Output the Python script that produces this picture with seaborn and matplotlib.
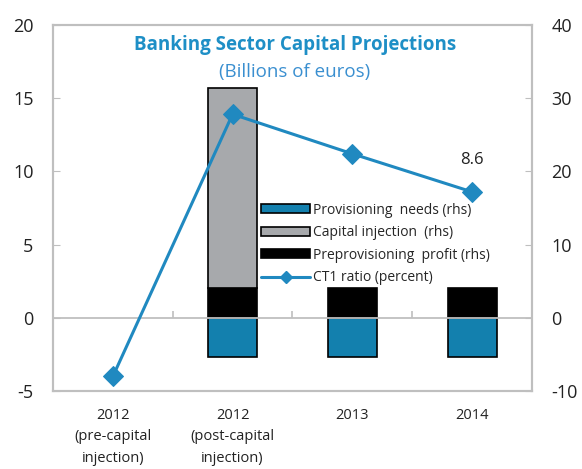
import numpy as np
import matplotlib
matplotlib.use("Agg")
import matplotlib.pyplot as plt
from matplotlib.patches import Patch
from matplotlib.lines import Line2D
import seaborn as sns

# Data
categories = ["2012\n(pre-capital\ninjection)", "2012\n(post-capital\ninjection)", "2013", "2014"]
ct1_ratio = [-4.0, 13.9, 11.2, 8.6]  # lhs, percent

bar_categories = categories[1:]
provisioning_needs = [-5.4, -5.4, -5.4]  # rhs
preprovisioning_profit = [4.1, 4.1, 4.1]  # rhs
injection_categories = [categories[1]]
capital_injection = [27.3]  # rhs, stacked on profit

BLUE_LINE = "#2089c0"
BLUE_BAR = "#1380ae"
GREY_BAR = "#a7a9ac"
SPINE = "#bfbfbf"

sns.set_style("white")
plt.rcParams["font.family"] = ["Open Sans", "DejaVu Sans"]

fig, ax = plt.subplots(figsize=(5.82, 4.69), dpi=100)
fig.subplots_adjust(left=0.091, right=0.914, top=0.947, bottom=0.166)
ax2 = ax.twinx()

# Bars on the right-hand axis
bar_kw = dict(order=categories, width=0.41, edgecolor="black", linewidth=1.2,
              saturation=1, ax=ax2)
sns.barplot(x=bar_categories, y=provisioning_needs, color=BLUE_BAR, **bar_kw)
sns.barplot(x=bar_categories, y=preprovisioning_profit, color="black", **bar_kw)
sns.barplot(x=injection_categories, y=capital_injection, color=GREY_BAR,
            bottom=preprovisioning_profit[0], **bar_kw)

# CT1 ratio line on the left-hand axis, drawn above the bars
positions = np.arange(len(categories))
sns.lineplot(x=positions, y=ct1_ratio, color=BLUE_LINE, linewidth=2.2, marker="D",
             markersize=10, markeredgecolor=BLUE_LINE, ax=ax)
ax.set_zorder(ax2.zorder + 1)
ax.patch.set_visible(False)

ax.annotate(f"{ct1_ratio[-1]}", (positions[-1], ct1_ratio[-1]), xytext=(0, 17),
            textcoords="offset points", ha="center", va="bottom", fontsize=12, color="#222222")

ax.set_xlim(-0.5, len(categories) - 0.5)
ax.set_ylim(-5, 20)
ax2.set_ylim(-10, 40)
ax.set_yticks([-5, 0, 5, 10, 15, 20])
ax2.set_yticks([-10, 0, 10, 20, 30, 40])
ax.set_xticks(positions)
ax.set_xticklabels(categories, fontsize=10.5, color="#222222", linespacing=1.6)
ax.set_yticklabels(["-5", "0", "5", "10", "15", "20"])
ax2.set_yticklabels(["-10", "0", "10", "20", "30", "40"])
ax.tick_params(axis="y", direction="in", length=5, color=SPINE, labelsize=13, pad=14,
               labelcolor="#222222", left=True)
ax2.tick_params(axis="y", direction="in", length=5, color=SPINE, labelsize=13, pad=14,
                labelcolor="#222222", right=True)
ax.tick_params(axis="x", length=0, pad=12)
ax2.set_xlabel("")
ax.set_xlabel("")

# zero line with category separators
ax.axhline(0, color=SPINE, linewidth=1.3, zorder=0)
ax.vlines(positions[:-1] + 0.5, 0, 0.45, color=SPINE, linewidth=1.2)

for a in (ax, ax2):
    for s in a.spines.values():
        s.set_color(SPINE)
        s.set_linewidth(1.5)

ax.text(0.505, 0.945, "Banking Sector Capital Projections", transform=ax.transAxes,
        ha="center", va="center", fontsize=13.5, fontweight="bold", color="#1e8fc6")
ax.text(0.505, 0.872, "(Billions of euros)", transform=ax.transAxes,
        ha="center", va="center", fontsize=13.5, color="#3a8fd0")

handles = [
    Patch(facecolor=BLUE_BAR, edgecolor="black", linewidth=1.2),
    Patch(facecolor=GREY_BAR, edgecolor="black", linewidth=1.2),
    Patch(facecolor="black", edgecolor="black", linewidth=1.2),
    Line2D([], [], color=BLUE_LINE, linewidth=2.2, marker="D", markersize=6),
]
labels = ["Provisioning  needs (rhs)", "Capital injection  (rhs)",
          "Preprovisioning  profit (rhs)", "CT1 ratio (percent)"]
ax.legend(handles, labels, loc="upper left", bbox_to_anchor=(0.435, 0.515), frameon=False,
          fontsize=10, handlelength=3.5, handleheight=0.6, handletextpad=0.2,
          labelspacing=0.55, borderaxespad=0, borderpad=0)

fig.savefig("out.png", dpi=100)
